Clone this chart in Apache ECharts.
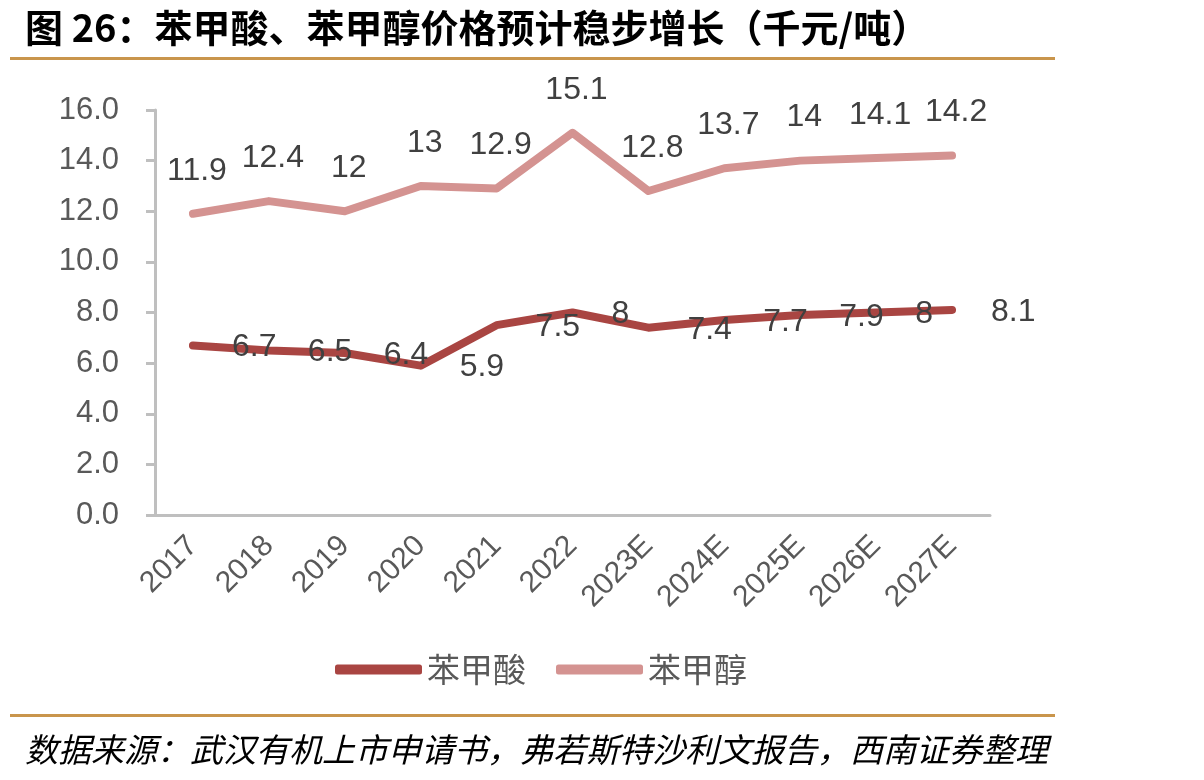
<!DOCTYPE html>
<html>
<head>
    <meta charset="utf-8">
    <title>苯甲酸、苯甲醇价格</title>
    <script src="https://cdn.jsdelivr.net/npm/echarts@6/dist/echarts.min.js"></script>
</head>
<body style="margin:0;background-color:#fff;">
    <div id="main" style="width:1204px;height:780px;"></div>
    <script type="text/javascript">
        // 年份
        var years = ['2017', '2018', '2019', '2020', '2021', '2022', '2023E', '2024E', '2025E', '2026E', '2027E'];
        // 苯甲酸 价格（千元/吨）
        var acidPrice = [6.7, 6.5, 6.4, 5.9, 7.5, 8, 7.4, 7.7, 7.9, 8, 8.1];
        // 苯甲醇 价格（千元/吨）
        var alcoholPrice = [11.9, 12.4, 12, 13, 12.9, 15.1, 12.8, 13.7, 14, 14.1, 14.2];
        // 纵轴刻度
        var yMin = 0, yMax = 16, yStep = 2;

        var myChart = echarts.init(document.getElementById('main'));

        var cjk = '"Noto Sans CJK SC", sans-serif';
        var latin = 'Arial, "Liberation Sans", sans-serif';

        var option = {
            animation: false,
            title: [
                {
                    text: '图 26：苯甲酸、苯甲醇价格预计稳步增长（千元/吨）',
                    left: 20,
                    top: 4,
                    textStyle: { fontFamily: cjk, fontSize: 38, fontWeight: 'bold', color: '#000' }
                },
                {
                    text: '数据来源：武汉有机上市申请书，弗若斯特沙利文报告，西南证券整理',
                    left: 20,
                    top: 728,
                    textStyle: { fontFamily: cjk, fontSize: 33, fontStyle: 'italic', fontWeight: 'normal', color: '#000' }
                }
            ],
            graphic: [
                { type: 'rect', shape: { x: 10, y: 57, width: 1045, height: 3 }, style: { fill: '#C9954C' } },
                { type: 'rect', shape: { x: 10, y: 714, width: 1045, height: 3 }, style: { fill: '#C9954C' } }
            ],
            legend: {
                top: 648,
                left: 330,
                itemWidth: 87,
                itemHeight: 10,
                itemGap: 30,
                textStyle: { fontFamily: cjk, fontSize: 33, color: '#595959' },
                data: [
                    { name: '苯甲酸', icon: 'roundRect' },
                    { name: '苯甲醇', icon: 'roundRect' }
                ]
            },
            grid: {
                left: 155,
                right: 214,
                top: 110,
                bottom: 265
            },
            xAxis: {
                type: 'category',
                data: years,
                axisLine: { lineStyle: { color: '#BFBFBF', width: 3 } },
                axisTick: { show: false },
                axisLabel: {
                    rotate: 45,
                    margin: 26,
                    fontFamily: latin,
                    fontSize: 30,
                    color: '#595959'
                }
            },
            yAxis: {
                type: 'value',
                min: yMin,
                max: yMax,
                interval: yStep,
                axisLine: { show: true, lineStyle: { color: '#BFBFBF', width: 3 } },
                axisTick: { show: true, length: 9, lineStyle: { color: '#BFBFBF', width: 3 } },
                splitLine: { show: false },
                axisLabel: {
                    margin: 36,
                    fontFamily: latin,
                    fontSize: 31,
                    color: '#595959',
                    formatter: function (v) { return v.toFixed(1); }
                }
            },
            series: [
                {
                    name: '苯甲酸',
                    type: 'line',
                    data: acidPrice,
                    symbol: 'circle',
                    symbolSize: 2,
                    showSymbol: true,
                    color: '#A94542',
                    lineStyle: { width: 8, color: '#A94542', cap: 'round', join: 'round' },
                    label: {
                        show: true,
                        position: 'right',
                        distance: 38,
                        offset: [0, 2],
                        fontFamily: latin,
                        fontSize: 32,
                        color: '#404040'
                    }
                },
                {
                    name: '苯甲醇',
                    type: 'line',
                    data: alcoholPrice,
                    symbol: 'circle',
                    symbolSize: 2,
                    showSymbol: true,
                    color: '#D49391',
                    lineStyle: { width: 8, color: '#D49391', cap: 'round', join: 'round' },
                    label: {
                        show: true,
                        position: 'top',
                        distance: 26,
                        offset: [4, 0],
                        fontFamily: latin,
                        fontSize: 32,
                        color: '#404040'
                    }
                }
            ]
        };

        myChart.setOption(option);
    </script>
</body>
</html>
